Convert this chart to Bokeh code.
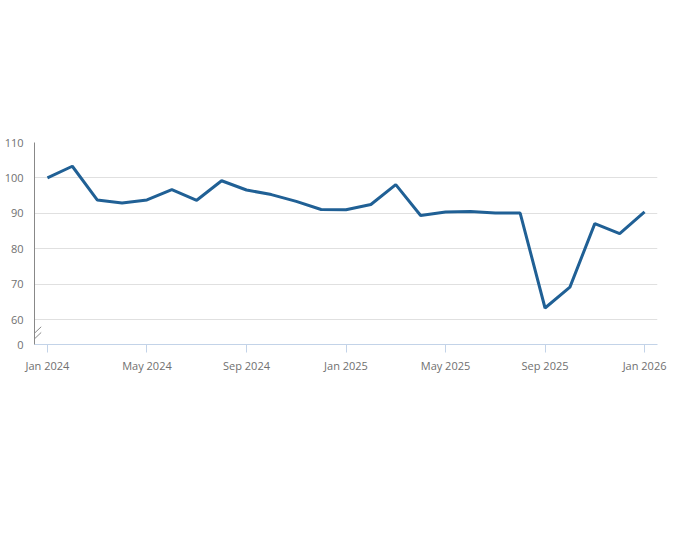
from bokeh.plotting import figure
from bokeh.models import FixedTicker, Label, Range1d
from bokeh.embed import file_html
from bokeh.resources import INLINE

months = list(range(25))
values = [100.0, 103.3, 93.8, 92.9, 93.8, 96.7, 93.7, 99.2, 96.6, 95.3, 93.4, 91.1,
          91.0, 92.5, 98.1, 89.4, 90.4, 90.5, 90.1, 90.1, 63.3, 69.2, 87.1, 84.3, 90.4]
x_ticks = [0, 4, 8, 12, 16, 20, 24]
x_labels = ["Jan 2024", "May 2024", "Sep 2024", "Jan 2025", "May 2025", "Sep 2025", "Jan 2026"]
y_ticks = [53, 60, 70, 80, 90, 100, 110]
y_labels = ["0", "60", "70", "80", "90", "100", "110"]

FONT = "Open Sans"
p = figure(frame_width=623, frame_height=202, output_backend="svg", toolbar_location=None,
           x_range=Range1d(-0.52, 24.52), y_range=Range1d(53, 110),
           min_border_left=34, min_border_right=27, min_border_top=142, min_border_bottom=181)
p.outline_line_color = None
p.title = None

p.line(months, values, line_color="#206095", line_width=3)
p.segment(x0=[-0.52, -0.52], y0=[54.6, 56.2], x1=[-0.25, -0.25], y1=[56.4, 58.0],
          line_color="#888888", line_width=1)

p.xaxis.ticker = FixedTicker(ticks=x_ticks)
p.xaxis.major_label_overrides = {t: l for t, l in zip(x_ticks, x_labels)}
p.xaxis.axis_line_color = "#c3d3e8"
p.xaxis.major_tick_line_color = "#c3d3e8"
p.xaxis.major_tick_in = 0
p.xaxis.major_tick_out = 8
p.xaxis.minor_tick_line_color = None
p.yaxis.ticker = FixedTicker(ticks=y_ticks)
p.yaxis.major_label_overrides = {t: l for t, l in zip(y_ticks, y_labels)}
p.yaxis.axis_line_color = "#888888"
p.yaxis.major_tick_line_color = None
p.yaxis.minor_tick_line_color = None
for ax in (p.xaxis, p.yaxis):
    ax.major_label_text_font = FONT
    ax.major_label_text_font_size = "11px"
    ax.major_label_text_color = "#707070"
p.xgrid.visible = False
p.ygrid.grid_line_color = "#e0e0e0"
p.ygrid.ticker = FixedTicker(ticks=y_ticks[1:])

def lab(x, y, text, size, color, align="center", style="normal"):
    p.add_layout(Label(x=x, y=y, text=text, text_font=FONT, text_font_size=size,
                       text_color=color, text_align=align, text_baseline="middle",
                       text_font_style=style))

lab(11.86, 147.2, "Figure 11: Manufacture of motor vehicles, trailers and semi-trailers grew by", "17px", "#222222")
lab(11.86, 141.6, "17.5% in the three months to January 2026", "17px", "#222222")
lab(11.86, 134.5, "Monthly index of manufacture of motor vehicles, trailers and semi-trailers, January 2024 to January 2026, UK", "11px", "#707070")
lab(-0.48, 112.3, "Monthly Index, January 2024 = 100", "12px", "#707070", align="left")
lab(24.52, 5.0, "Source: Gross domestic product (GDP) monthly estimate from the Office for National Statistics", "13px", "#707070", align="right", style="bold")

open("out.html", "w").write(file_html(p, INLINE))
